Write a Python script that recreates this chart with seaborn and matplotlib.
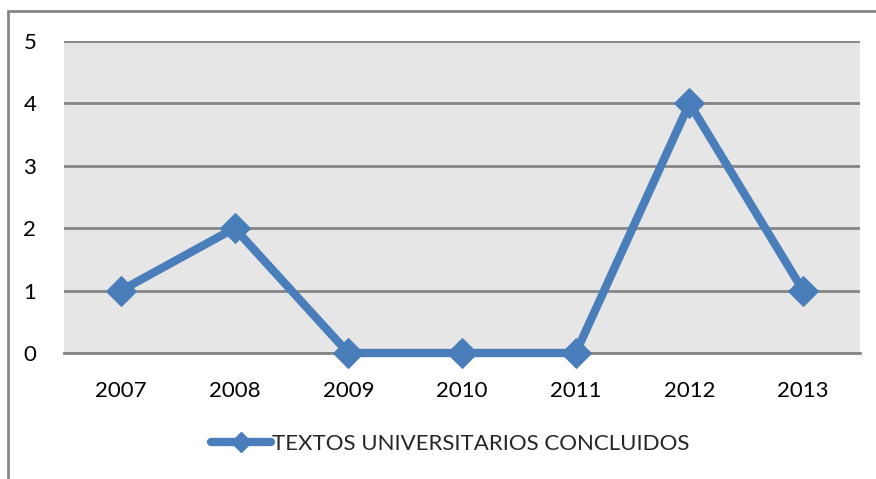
import matplotlib
matplotlib.use('Agg')
import matplotlib.pyplot as plt
import matplotlib.patches as patches
from matplotlib.lines import Line2D
import pandas as pd
import seaborn as sns

anos = ['2007', '2008', '2009', '2010', '2011', '2012', '2013']
textos = [1, 2, 0, 0, 0, 4, 1]
serie = 'TEXTOS UNIVERSITARIOS CONCLUIDOS'

df = pd.DataFrame({'ano': anos, 'valor': textos})

sns.set_style('white')
plt.rcParams['font.family'] = ['Lato', 'DejaVu Sans']

cinza = '#868686'
azul = '#4a7ebb'

fig = plt.figure(figsize=(8.76, 4.79), dpi=100)
ax = fig.add_axes([64 / 876, 1 - 353 / 479, (860 - 64) / 876, (353 - 41) / 479])
ax.set_facecolor('#e6e6e6')

sns.lineplot(data=df, x='ano', y='valor', ax=ax, color=azul, linewidth=6,
             marker='D', markersize=15, markeredgecolor=azul,
             sort=False, legend=False)
for ln in ax.get_lines():
    ln.set_clip_on(False)
    ln.set_zorder(5)

ax.set_xlim(-0.5, len(anos) - 0.5)
ax.set_ylim(0, 5)
ax.set_yticks(range(0, 6))
ax.yaxis.grid(True, color=cinza, linewidth=2)
ax.set_axisbelow(True)

# ticks nas divisas das categorias
ax.set_xticks([i - 0.5 for i in range(len(anos) + 1)], minor=True)
ax.tick_params(axis='x', which='major', length=0, pad=20, labelsize=16, colors='black')
ax.tick_params(axis='x', which='minor', length=8, width=2, color=cinza, direction='out')
ax.tick_params(axis='y', which='major', length=8, width=2, color=cinza, direction='out',
               pad=12, labelsize=16, labelcolor='black')
ax.set_xlabel('')
ax.set_ylabel('')

for s in ['left', 'right', 'top']:
    ax.spines[s].set_visible(False)
ax.spines['bottom'].set_color(cinza)
ax.spines['bottom'].set_linewidth(2)

handle = Line2D([], [], color=azul, linewidth=6, marker='D', markersize=10,
                solid_capstyle='round')
fig.legend(handles=[handle], labels=[serie], loc='center',
           bbox_to_anchor=(450 / 876, 1 - 444 / 479), frameon=False,
           fontsize=16, handlelength=2.7, handletextpad=0.05)

# moldura do grafico
fig.patches.append(patches.Rectangle((8 / 876, -0.1), 1.2, 1 - 11 / 479 + 0.1,
                                     transform=fig.transFigure, fill=False,
                                     edgecolor=cinza, linewidth=2, figure=fig))

fig.savefig('out.png', dpi=100)
